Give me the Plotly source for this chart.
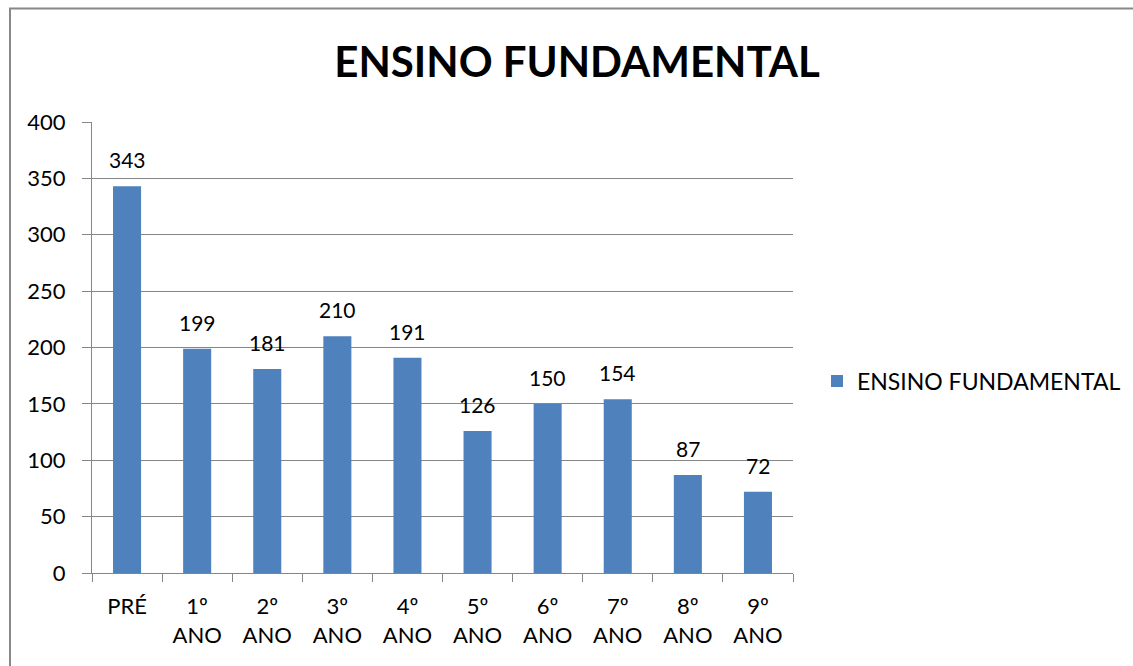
import plotly.graph_objects as go

categories = ["PRÉ", "1º<br>ANO", "2º<br>ANO", "3º<br>ANO", "4º<br>ANO",
              "5º<br>ANO", "6º<br>ANO", "7º<br>ANO", "8º<br>ANO", "9º<br>ANO"]
values = [343, 199, 181, 210, 191, 126, 150, 154, 87, 72]
series_name = "ENSINO FUNDAMENTAL"
title_text = "ENSINO FUNDAMENTAL"
y_ticks = [0, 50, 100, 150, 200, 250, 300, 350, 400]

FONT = "Lato, 'Open Sans', sans-serif"
GRID = "#868686"
FS = 21

fig = go.Figure()
fig.add_trace(go.Bar(
    x=categories, y=values, name=series_name,
    marker=dict(color="#4F81BD", line=dict(width=0)),
    showlegend=True,
))

for c, v in zip(categories, values):
    fig.add_annotation(x=c, y=v, text=str(v), showarrow=False,
                       yanchor="bottom", yshift=12,
                       font=dict(size=FS, family=FONT, color="#000000"))

W, H = 1133, 666
L, R, T, B = 92, 793, 122, 573

fig.update_layout(
    width=W, height=H,
    margin=dict(l=L, r=W - R, t=T, b=H - B, pad=0, autoexpand=False),
    paper_bgcolor="white", plot_bgcolor="white",
    bargap=0.6,
    font=dict(family=FONT, size=FS, color="#000000"),
    title=dict(text="<b>" + title_text + "</b>", x=577 / W, xanchor="center",
               y=1 - 62 / H, yanchor="middle",
               font=dict(size=42, family=FONT, color="#000000")),
    showlegend=True,
    legend=dict(x=(817 - L) / (R - L), xanchor="left",
                y=(B - 381) / (B - T), yanchor="middle",
                font=dict(size=23, family=FONT), bgcolor="rgba(0,0,0,0)",
                itemwidth=30),
    xaxis=dict(
        type="category", tickson="boundaries", ticks="outside", ticklen=8,
        tickcolor=GRID, showline=True, linecolor=GRID, linewidth=1,
        showgrid=False, tickfont=dict(size=22, family=FONT),
        ticklabelstandoff=14,
    ),
    yaxis=dict(
        range=[0, 400], tickvals=y_ticks, ticks="outside", ticklen=9,
        tickcolor=GRID, showline=True, linecolor=GRID, linewidth=1,
        showgrid=True, gridcolor=GRID, gridwidth=1, zeroline=False,
        tickfont=dict(size=22, family=FONT), ticklabelstandoff=12,
    ),
    shapes=[dict(type="rect", xref="paper", yref="paper",
                 x0=(10 - L) / (R - L), x1=(W + 20 - L) / (R - L),
                 y0=(B - (H + 20)) / (B - T), y1=(B - 8.5) / (B - T),
                 line=dict(color="#888888", width=2), fillcolor="rgba(0,0,0,0)",
                 layer="below")],
)

fig.write_html("out.html")
